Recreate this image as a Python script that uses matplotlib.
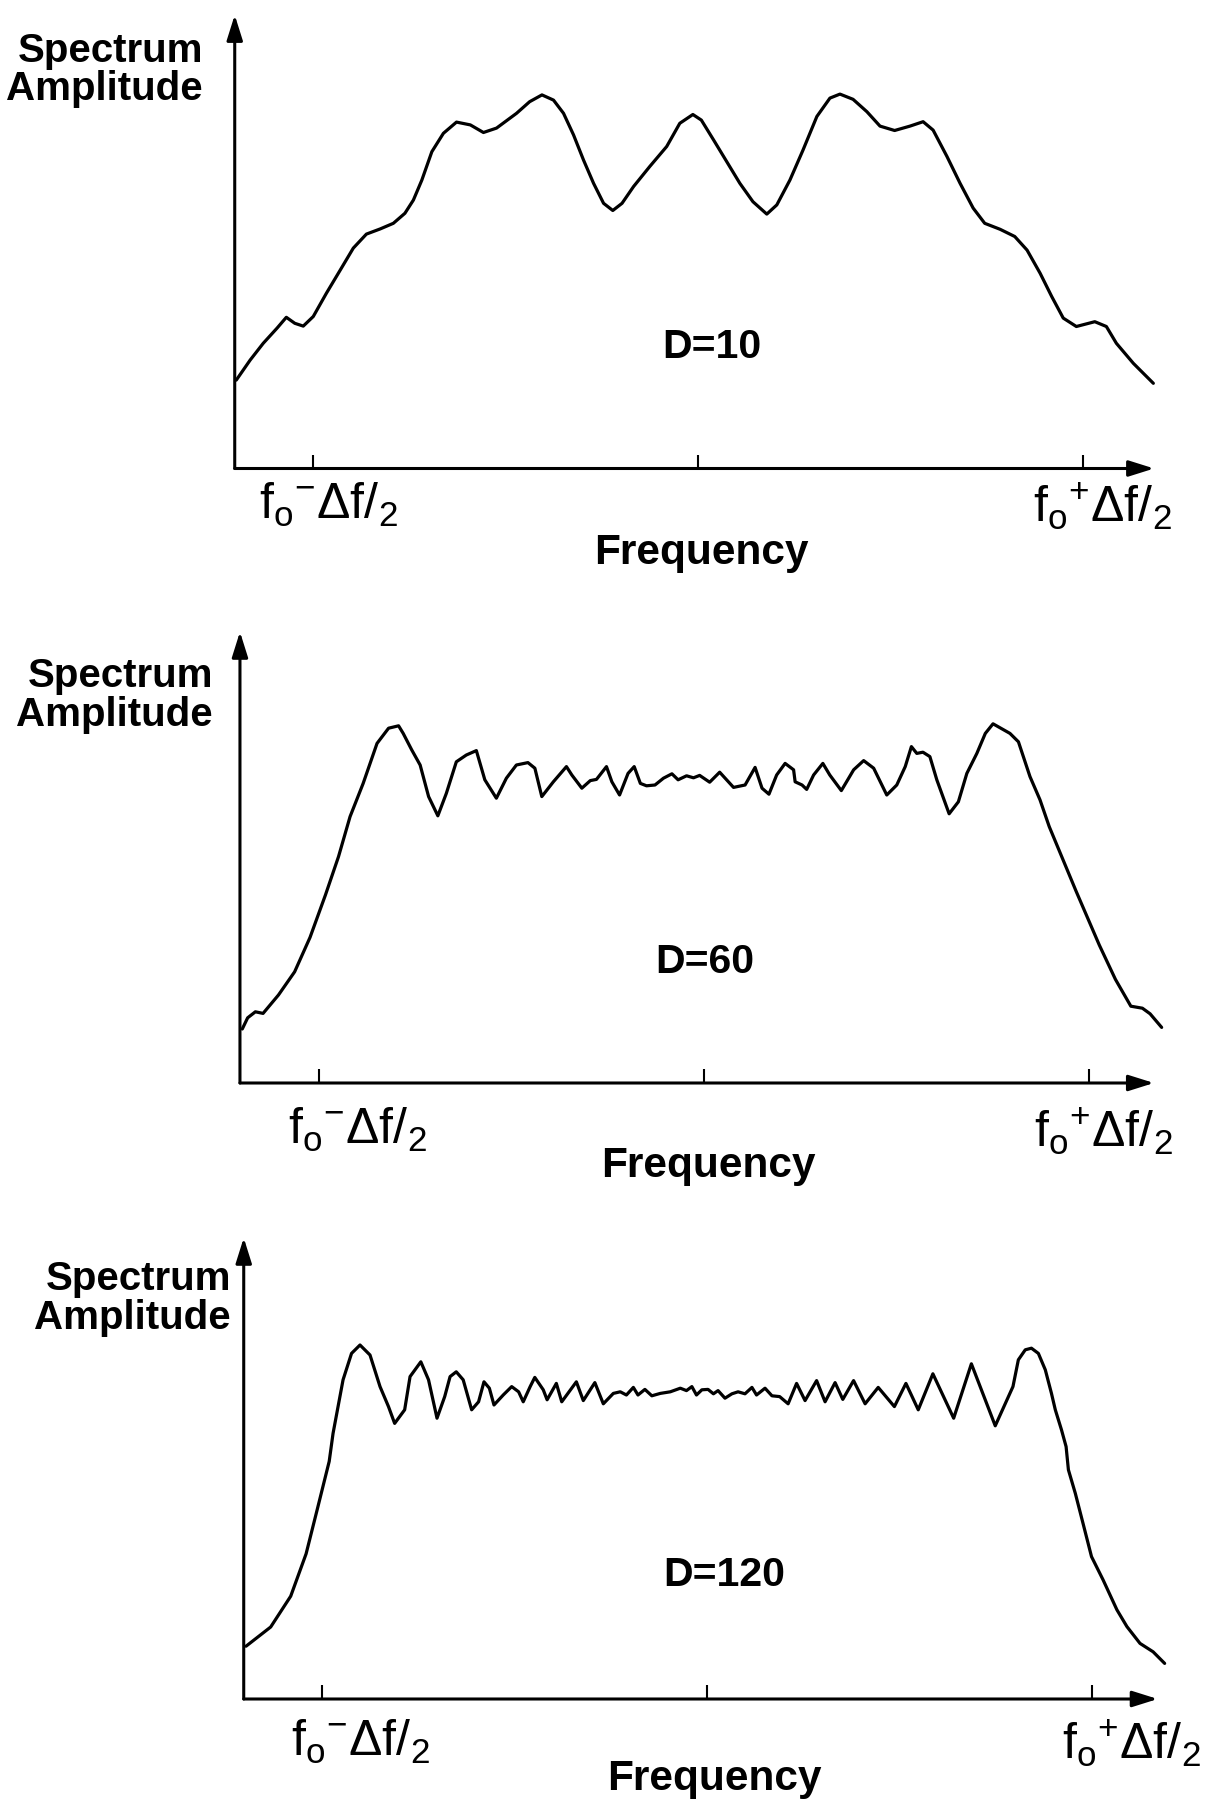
import matplotlib
matplotlib.use("Agg")
import matplotlib.pyplot as plt

# ---------------- data (frequency in units of delta-f about f0, amplitude arbitrary) ----------------
f_d10 = [-0.599, -0.581, -0.564, -0.546, -0.534, -0.523, -0.512, -0.499, -0.482, -0.464,
         -0.447, -0.430, -0.412, -0.395, -0.380, -0.369, -0.358, -0.345, -0.330, -0.313,
         -0.295, -0.278, -0.261, -0.235, -0.218, -0.202, -0.187, -0.174, -0.161, -0.148,
         -0.135, -0.122, -0.110, -0.098, -0.083, -0.062, -0.040, -0.023, -0.006, 0.005,
         0.021, 0.038, 0.055, 0.072, 0.090, 0.103, 0.120, 0.137, 0.155, 0.172,
         0.185, 0.202, 0.220, 0.237, 0.256, 0.276, 0.293, 0.306, 0.324, 0.341,
         0.358, 0.373, 0.393, 0.412, 0.428, 0.445, 0.460, 0.475, 0.492, 0.516,
         0.531, 0.544, 0.566, 0.592]
a_d10 = [0.221, 0.271, 0.313, 0.351, 0.378, 0.363, 0.356, 0.380, 0.438, 0.496,
         0.551, 0.586, 0.599, 0.613, 0.638, 0.671, 0.721, 0.792, 0.838, 0.866,
         0.859, 0.840, 0.851, 0.888, 0.917, 0.934, 0.921, 0.888, 0.834, 0.771,
         0.713, 0.663, 0.645, 0.663, 0.705, 0.755, 0.805, 0.863, 0.885, 0.871,
         0.821, 0.767, 0.713, 0.667, 0.636, 0.659, 0.721, 0.796, 0.880, 0.926,
         0.936, 0.923, 0.892, 0.856, 0.845, 0.856, 0.867, 0.846, 0.780, 0.713,
         0.651, 0.613, 0.598, 0.580, 0.546, 0.488, 0.430, 0.376, 0.355, 0.367,
         0.355, 0.313, 0.263, 0.213]

f_d60 = [-0.599, -0.592, -0.582, -0.572, -0.552, -0.531, -0.511, -0.491, -0.474, -0.459,
         -0.442, -0.424, -0.409, -0.396, -0.390, -0.379, -0.368, -0.357, -0.345, -0.334,
         -0.321, -0.308, -0.295, -0.284, -0.269, -0.256, -0.243, -0.228, -0.219, -0.210,
         -0.195, -0.178, -0.171, -0.158, -0.147, -0.139, -0.126, -0.119, -0.109, -0.098,
         -0.090, -0.082, -0.074, -0.063, -0.052, -0.041, -0.033, -0.022, -0.013, -0.005,
         0.008, 0.021, 0.039, 0.054, 0.067, 0.076, 0.085, 0.095, 0.106, 0.117,
         0.119, 0.128, 0.134, 0.143, 0.155, 0.164, 0.179, 0.195, 0.208, 0.221,
         0.238, 0.251, 0.262, 0.270, 0.277, 0.285, 0.294, 0.303, 0.319, 0.331,
         0.342, 0.355, 0.366, 0.376, 0.398, 0.409, 0.424, 0.437, 0.449, 0.484,
         0.514, 0.535, 0.555, 0.570, 0.580, 0.595]
a_d60 = [0.135, 0.163, 0.178, 0.174, 0.220, 0.278, 0.364, 0.470, 0.566, 0.666,
         0.749, 0.849, 0.887, 0.893, 0.874, 0.833, 0.795, 0.716, 0.668, 0.724,
         0.803, 0.820, 0.831, 0.758, 0.712, 0.762, 0.795, 0.801, 0.787, 0.716,
         0.753, 0.791, 0.770, 0.737, 0.756, 0.759, 0.791, 0.753, 0.720, 0.774,
         0.791, 0.749, 0.743, 0.745, 0.762, 0.773, 0.758, 0.768, 0.763, 0.769,
         0.752, 0.777, 0.739, 0.745, 0.789, 0.737, 0.722, 0.770, 0.799, 0.783,
         0.753, 0.745, 0.734, 0.770, 0.799, 0.770, 0.731, 0.783, 0.806, 0.787,
         0.720, 0.745, 0.791, 0.841, 0.824, 0.827, 0.816, 0.758, 0.673, 0.703,
         0.774, 0.824, 0.874, 0.898, 0.874, 0.853, 0.766, 0.708, 0.641, 0.479,
         0.345, 0.259, 0.192, 0.187, 0.173, 0.139]

f_d120 = [-0.598, -0.566, -0.540, -0.520, -0.505, -0.490, -0.485, -0.472, -0.461, -0.450,
          -0.437, -0.424, -0.413, -0.405, -0.392, -0.385, -0.371, -0.361, -0.350, -0.340,
          -0.333, -0.325, -0.316, -0.305, -0.296, -0.289, -0.282, -0.276, -0.264, -0.253,
          -0.244, -0.238, -0.229, -0.223, -0.212, -0.207, -0.195, -0.188, -0.169, -0.160,
          -0.145, -0.134, -0.121, -0.112, -0.104, -0.095, -0.089, -0.080, -0.071, -0.060,
          -0.047, -0.034, -0.026, -0.019, -0.013, -0.006, 0.002, 0.009, 0.015, 0.024,
          0.033, 0.041, 0.050, 0.059, 0.065, 0.076, 0.085, 0.095, 0.106, 0.117,
          0.128, 0.143, 0.154, 0.167, 0.177, 0.191, 0.206, 0.223, 0.244, 0.259,
          0.275, 0.294, 0.321, 0.344, 0.375, 0.398, 0.405, 0.414, 0.422, 0.431,
          0.440, 0.448, 0.453, 0.461, 0.467, 0.470, 0.479, 0.489, 0.500, 0.515,
          0.533, 0.546, 0.563, 0.580, 0.595]
a_d120 = [0.132, 0.180, 0.257, 0.363, 0.478, 0.594, 0.664, 0.798, 0.864, 0.885,
          0.860, 0.781, 0.731, 0.689, 0.723, 0.806, 0.843, 0.798, 0.702, 0.756,
          0.806, 0.818, 0.798, 0.723, 0.743, 0.793, 0.777, 0.735, 0.760, 0.781,
          0.768, 0.743, 0.781, 0.804, 0.773, 0.748, 0.789, 0.743, 0.793, 0.746,
          0.791, 0.738, 0.764, 0.768, 0.760, 0.779, 0.760, 0.774, 0.758, 0.764,
          0.768, 0.777, 0.771, 0.781, 0.760, 0.773, 0.774, 0.763, 0.771, 0.752,
          0.763, 0.768, 0.763, 0.779, 0.760, 0.777, 0.758, 0.756, 0.738, 0.789,
          0.746, 0.796, 0.743, 0.791, 0.749, 0.796, 0.738, 0.779, 0.731, 0.789,
          0.723, 0.813, 0.702, 0.838, 0.683, 0.781, 0.848, 0.873, 0.877, 0.864,
          0.823, 0.764, 0.723, 0.673, 0.631, 0.573, 0.514, 0.439, 0.356, 0.298,
          0.223, 0.181, 0.139, 0.118, 0.089]

tick_positions = [-0.5, 0.0, 0.5]
tick_label_low = r"f$_\mathrm{o}$$^{-}$$\Delta$f/$_\mathrm{2}$"
tick_label_high = r"f$_\mathrm{o}$$^{+}$$\Delta$f/$_\mathrm{2}$"
d_labels = ["D=10", "D=60", "D=120"]
y_label_lines = ["Spectrum", "Amplitude"]
x_label = "Frequency"

# ---------------- layout (pixel geometry of the scanned figure) ----------------
W, H = 1212, 1802
SX, SY = 770.0, 400.0   # pixels per frequency unit / amplitude unit
FONT = ["Liberation Sans", "DejaVu Sans"]
plt.rcParams["font.family"] = FONT
plt.rcParams["mathtext.fontset"] = "custom"
plt.rcParams["mathtext.rm"] = "Liberation Sans"
plt.rcParams["mathtext.it"] = "Liberation Sans"
plt.rcParams["mathtext.sf"] = "Liberation Sans"
plt.rcParams["mathtext.bf"] = "Liberation Sans:bold"

fig = plt.figure(figsize=(W / 100, H / 100), dpi=100)
fig.patch.set_facecolor("white")

def fx(px):
    return px / W

def fy(py):
    return 1 - py / H

panels = [
    dict(f=f_d10, a=a_d10, cx=697.5, cy=468.5, fl=-0.601, ftip=0.593, atip=1.134,
         ylab_x=203, ylab_y=(62, 100), tl_lo=(328, 481), tl_hi=(1102, 481),
         xlab=(701, 564), dlab=(712, 358), d=d_labels[0]),
    dict(f=f_d60, a=a_d60, cx=703.5, cy=1083.0, fl=-0.602, ftip=0.585, atip=1.128,
         ylab_x=213, ylab_y=(687, 726), tl_lo=(357, 1106), tl_hi=(1103, 1106),
         xlab=(708, 1177), dlab=(705, 973), d=d_labels[1]),
    dict(f=f_d120, a=a_d120, cx=706.5, cy=1699.0, fl=-0.601, ftip=0.586, atip=1.153,
         ylab_x=231, ylab_y=(1290, 1329), tl_lo=(360, 1718), tl_hi=(1131, 1718),
         xlab=(714, 1790), dlab=(724, 1586), d=d_labels[2]),
]

LW = 2.3
for p in panels:
    xl = (p["fl"], 0.62)
    yl = (0.0, 1.17)
    left = p["cx"] + xl[0] * SX
    right = p["cx"] + xl[1] * SX
    bottom = p["cy"] - yl[0] * SY
    top = p["cy"] - yl[1] * SY
    ax = fig.add_axes([fx(left), fy(bottom), (right - left) / W, (bottom - top) / H])
    ax.set_xlim(*xl)
    ax.set_ylim(*yl)
    ax.patch.set_alpha(0)
    for s in ax.spines.values():
        s.set_visible(False)
    ax.set_yticks([])
    ax.set_xticks(tick_positions)
    ax.set_xticklabels([])
    ax.tick_params(axis="x", direction="in", length=10, width=1.5, color="black")

    # curve
    ax.plot(p["f"], p["a"], color="black", lw=LW, solid_joinstyle="round",
            solid_capstyle="round", clip_on=False)

    # axes with arrows
    arrow = dict(arrowstyle="-|>,head_length=0.7,head_width=0.22", color="black",
                 lw=2.2, mutation_scale=22, shrinkA=0, shrinkB=0)
    ax.annotate("", xy=(p["fl"], p["atip"]), xytext=(p["fl"], 0.0),
                arrowprops=arrow, annotation_clip=False)
    ax.annotate("", xy=(p["ftip"], 0.0), xytext=(p["fl"], 0.0),
                arrowprops=arrow, annotation_clip=False)

    # texts
    fig.text(fx(p["ylab_x"]), fy(p["ylab_y"][0]), y_label_lines[0], ha="right",
             va="baseline", fontsize=29, fontweight="bold", color="black")
    fig.text(fx(p["ylab_x"]), fy(p["ylab_y"][1]), y_label_lines[1], ha="right",
             va="baseline", fontsize=29, fontweight="bold", color="black")
    fig.text(fx(p["tl_lo"][0]), fy(p["tl_lo"][1]), tick_label_low, ha="center",
             va="top", fontsize=36, color="black")
    fig.text(fx(p["tl_hi"][0]), fy(p["tl_hi"][1]), tick_label_high, ha="center",
             va="top", fontsize=36, color="black")
    fig.text(fx(p["xlab"][0]), fy(p["xlab"][1]), x_label, ha="center",
             va="baseline", fontsize=30.5, fontweight="bold", color="black")
    fig.text(fx(p["dlab"][0]), fy(p["dlab"][1]), p["d"], ha="center",
             va="baseline", fontsize=29.5, fontweight="bold", color="black")

fig.savefig("out.png", dpi=100, facecolor="white")
